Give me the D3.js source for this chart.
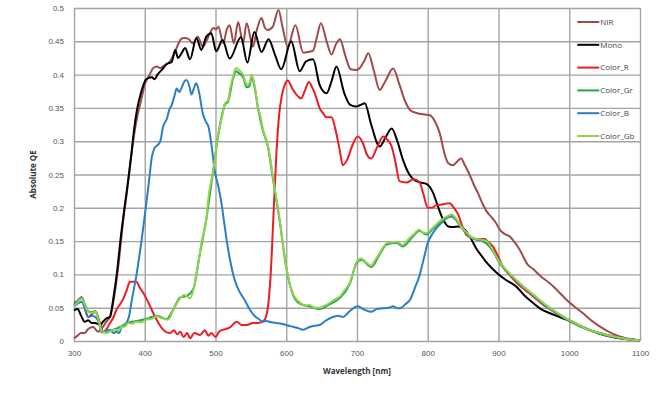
<!DOCTYPE html>
<html>
<head>
<meta charset="utf-8">
<script src="https://cdn.jsdelivr.net/npm/d3@7"></script>
<style>
  body { margin: 0; background: #fff; }
  svg { display: block; font-family: "Open Sans", "Liberation Sans", sans-serif; }
  .grid line, .grid path { stroke: #a4a4a4; stroke-width: 1.4; }
  .axis text { fill: #555; font-size: 8px; }
  .axis path, .axis line { display: none; }
  .title { fill: #333; font-size: 8px; font-weight: bold; }
  .legend text { fill: #444; font-size: 8px; }
  .series { fill: none; stroke-width: 2; stroke-linejoin: round; }
</style>
</head>
<body>
<div id="chart"></div>
<script>
// wavelength [nm], absolute QE
const nir = [[300,0.004],[305,0.008],[310,0.012],[315,0.012],[320,0.018],[327,0.021],[334,0.014],[340,0.02],[345,0.028],[350,0.035],[355,0.055],[360,0.09],[365,0.135],[370,0.185],[375,0.225],[380,0.27],[385,0.31],[390,0.34],[395,0.362],[400,0.385],[407,0.4],[412,0.41],[417,0.412],[422,0.41],[428,0.414],[435,0.419],[442,0.432],[447,0.445],[452,0.454],[456,0.455],[461,0.454],[468,0.447],[475,0.457],[482,0.442],[487,0.45],[492,0.462],[497,0.47],[501,0.468],[504,0.472],[511,0.447],[516,0.468],[520,0.474],[526,0.447],[532,0.479],[539,0.447],[544,0.477],[553,0.442],[558,0.465],[565,0.485],[570,0.47],[574,0.467],[581,0.472],[589,0.497],[595,0.47],[602,0.442],[613,0.474],[624,0.433],[631,0.434],[638,0.436],[643,0.455],[649,0.477],[657,0.45],[664,0.43],[670,0.445],[676,0.453],[683,0.43],[691,0.408],[699,0.407],[704,0.41],[710,0.42],[716,0.432],[724,0.405],[732,0.377],[740,0.39],[751,0.409],[760,0.385],[768,0.36],[775,0.347],[785,0.342],[795,0.34],[803,0.339],[810,0.33],[817,0.312],[824,0.28],[829,0.267],[836,0.264],[842,0.27],[847,0.274],[852,0.265],[859,0.25],[865,0.235],[871,0.222],[878,0.205],[883,0.195],[890,0.186],[896,0.178],[902,0.167],[910,0.16],[916,0.157],[923,0.148],[930,0.137],[941,0.115],[949,0.108],[960,0.097],[972,0.087],[985,0.074],[996,0.062],[1008,0.051],[1019,0.042],[1030,0.032],[1043,0.022],[1061,0.011],[1080,0.004],[1100,0.001]];

const mono = [[300,0.046],[305,0.048],[310,0.038],[315,0.029],[320,0.031],[325,0.027],[330,0.027],[337,0.024],[341,0.029],[346,0.034],[351,0.036],[355,0.06],[361,0.105],[366,0.155],[372,0.205],[377,0.245],[381,0.28],[385,0.318],[389,0.347],[395,0.374],[402,0.393],[410,0.396],[414,0.393],[418,0.4],[424,0.407],[431,0.416],[438,0.419],[443,0.437],[447,0.425],[452,0.432],[457,0.44],[464,0.423],[473,0.455],[480,0.437],[487,0.457],[494,0.462],[501,0.435],[510,0.452],[520,0.424],[536,0.456],[545,0.418],[555,0.464],[565,0.434],[575,0.453],[584,0.43],[593,0.408],[607,0.45],[619,0.405],[628,0.42],[638,0.423],[647,0.385],[657,0.372],[664,0.39],[671,0.412],[682,0.372],[690,0.355],[699,0.352],[706,0.355],[711,0.357],[720,0.325],[732,0.292],[740,0.305],[749,0.319],[757,0.3],[765,0.272],[774,0.25],[782,0.241],[790,0.238],[798,0.236],[807,0.224],[815,0.2],[822,0.182],[829,0.172],[836,0.171],[843,0.172],[849,0.17],[855,0.164],[862,0.152],[869,0.138],[876,0.128],[883,0.118],[890,0.11],[897,0.103],[910,0.092],[925,0.082],[937,0.068],[949,0.057],[960,0.048],[972,0.042],[984,0.037],[996,0.032],[1008,0.026],[1019,0.021],[1030,0.016],[1043,0.011],[1061,0.006],[1080,0.003],[1100,0.001]];

const colorR = [[300,0.058],[305,0.06],[311,0.066],[315,0.05],[320,0.036],[325,0.04],[330,0.044],[336,0.03],[341,0.013],[346,0.018],[351,0.027],[356,0.036],[360,0.047],[365,0.055],[370,0.064],[375,0.078],[379,0.089],[388,0.089],[393,0.08],[398,0.072],[405,0.058],[412,0.042],[420,0.026],[426,0.017],[431,0.013],[436,0.012],[441,0.016],[446,0.01],[450,0.014],[455,0.006],[460,0.012],[464,0.004],[470,0.012],[478,0.009],[485,0.016],[490,0.008],[494,0.012],[500,0.006],[505,0.014],[511,0.017],[520,0.02],[530,0.029],[537,0.024],[544,0.024],[553,0.027],[560,0.027],[567,0.029],[571,0.035],[574,0.05],[578,0.1],[582,0.19],[586,0.28],[590,0.34],[594,0.37],[598,0.385],[602,0.391],[609,0.378],[616,0.368],[621,0.364],[626,0.375],[632,0.389],[637,0.38],[642,0.367],[647,0.35],[652,0.342],[657,0.336],[664,0.336],[669,0.32],[675,0.29],[680,0.264],[686,0.272],[694,0.295],[701,0.307],[708,0.298],[714,0.28],[720,0.274],[728,0.29],[737,0.307],[743,0.302],[749,0.292],[755,0.265],[760,0.24],[770,0.238],[780,0.243],[788,0.239],[794,0.22],[800,0.2],[806,0.2],[812,0.204],[820,0.205],[831,0.207],[837,0.2],[843,0.19],[849,0.172],[855,0.159],[862,0.155],[869,0.153],[880,0.153],[886,0.148],[892,0.142],[899,0.128],[906,0.112],[915,0.1],[925,0.088],[937,0.077],[949,0.067],[960,0.057],[972,0.048],[984,0.04],[996,0.033],[1008,0.027],[1019,0.021],[1030,0.016],[1043,0.012],[1061,0.007],[1080,0.003],[1100,0.001]];

const colorGr = [[300,0.054],[305,0.06],[311,0.065],[315,0.056],[320,0.045],[325,0.043],[330,0.045],[335,0.031],[339,0.016],[346,0.013],[358,0.018],[367,0.022],[377,0.028],[388,0.03],[402,0.033],[417,0.038],[431,0.033],[440,0.047],[450,0.065],[460,0.068],[469,0.079],[477,0.126],[487,0.183],[497,0.258],[504,0.31],[513,0.354],[518,0.36],[525,0.395],[529,0.405],[532,0.403],[539,0.396],[544,0.381],[548,0.383],[551,0.396],[555,0.382],[560,0.35],[567,0.316],[574,0.292],[581,0.245],[591,0.178],[600,0.11],[610,0.068],[619,0.056],[633,0.052],[647,0.048],[661,0.055],[676,0.065],[690,0.086],[699,0.116],[706,0.122],[720,0.111],[732,0.13],[742,0.145],[756,0.147],[765,0.142],[779,0.157],[788,0.165],[798,0.16],[807,0.168],[822,0.182],[834,0.188],[847,0.171],[862,0.155],[876,0.151],[890,0.139],[902,0.117],[920,0.096],[949,0.069],[972,0.049],[996,0.033],[1019,0.02],[1043,0.011],[1070,0.005],[1100,0.001]];

const colorB = [[300,0.052],[305,0.056],[311,0.059],[315,0.05],[320,0.036],[326,0.038],[332,0.034],[336,0.025],[339,0.013],[345,0.015],[351,0.017],[356,0.012],[360,0.014],[364,0.012],[367,0.02],[370,0.022],[374,0.027],[378,0.038],[381,0.057],[385,0.08],[388,0.097],[392,0.125],[395,0.147],[399,0.18],[402,0.205],[406,0.24],[410,0.276],[414,0.29],[418,0.294],[422,0.3],[426,0.322],[431,0.333],[435,0.348],[438,0.354],[442,0.368],[445,0.379],[449,0.374],[452,0.38],[456,0.39],[459,0.392],[463,0.383],[466,0.37],[469,0.378],[473,0.387],[477,0.372],[482,0.342],[486,0.33],[490,0.322],[494,0.297],[499,0.255],[504,0.232],[508,0.21],[512,0.18],[516,0.15],[520,0.125],[525,0.1],[530,0.083],[535,0.072],[541,0.062],[548,0.048],[555,0.038],[561,0.033],[567,0.029],[572,0.03],[579,0.028],[586,0.027],[593,0.026],[600,0.024],[607,0.022],[615,0.02],[624,0.017],[633,0.021],[640,0.023],[647,0.024],[655,0.03],[666,0.036],[674,0.038],[680,0.036],[690,0.045],[701,0.052],[710,0.047],[720,0.044],[728,0.048],[737,0.049],[745,0.05],[751,0.052],[757,0.049],[763,0.05],[768,0.055],[775,0.062],[782,0.08],[788,0.097],[794,0.122],[800,0.147],[806,0.16],[812,0.169],[819,0.177],[826,0.184],[833,0.187],[840,0.182],[847,0.172],[855,0.162],[862,0.155],[869,0.152],[878,0.15],[885,0.145],[892,0.135],[900,0.12],[910,0.107],[920,0.096],[935,0.081],[949,0.069],[960,0.059],[972,0.05],[984,0.041],[996,0.034],[1008,0.027],[1019,0.021],[1030,0.016],[1043,0.012],[1061,0.007],[1080,0.003],[1100,0.001]];

const colorGb = [[300,0.052],[305,0.058],[311,0.064],[315,0.055],[320,0.044],[325,0.042],[330,0.044],[335,0.03],[339,0.015],[346,0.012],[352,0.015],[358,0.017],[363,0.016],[367,0.021],[372,0.022],[377,0.027],[382,0.026],[388,0.029],[395,0.028],[402,0.032],[409,0.033],[417,0.037],[422,0.035],[426,0.034],[431,0.032],[435,0.034],[440,0.046],[445,0.056],[450,0.064],[456,0.069],[460,0.067],[464,0.064],[469,0.078],[473,0.1],[477,0.125],[480,0.147],[484,0.165],[487,0.182],[490,0.215],[497,0.257],[504,0.312],[509,0.335],[513,0.356],[518,0.362],[521,0.38],[525,0.398],[529,0.41],[532,0.408],[536,0.404],[539,0.4],[544,0.385],[548,0.387],[551,0.4],[555,0.385],[560,0.352],[564,0.335],[567,0.318],[571,0.305],[574,0.294],[578,0.27],[581,0.247],[586,0.215],[591,0.18],[595,0.148],[600,0.112],[605,0.085],[610,0.07],[615,0.062],[619,0.058],[626,0.053],[633,0.054],[640,0.05],[647,0.05],[654,0.053],[661,0.057],[668,0.062],[676,0.067],[683,0.077],[690,0.088],[695,0.105],[699,0.118],[706,0.124],[713,0.118],[720,0.113],[726,0.122],[732,0.132],[738,0.142],[742,0.147],[749,0.148],[756,0.149],[765,0.144],[772,0.152],[779,0.159],[788,0.167],[793,0.163],[798,0.162],[807,0.17],[815,0.178],[822,0.184],[829,0.188],[834,0.19],[840,0.184],[847,0.172],[855,0.163],[862,0.156],[869,0.153],[876,0.152],[883,0.15],[890,0.14],[896,0.128],[902,0.118],[910,0.108],[920,0.097],[935,0.082],[949,0.07],[960,0.06],[972,0.05],[984,0.042],[996,0.034],[1008,0.027],[1019,0.021],[1030,0.016],[1043,0.012],[1061,0.007],[1080,0.003],[1100,0.001]];

const xTicks = [300, 400, 500, 600, 700, 800, 900, 1000, 1100];
const yTicks = [0, 0.05, 0.1, 0.15, 0.2, 0.25, 0.3, 0.35, 0.4, 0.45, 0.5];

const seriesNames = ["NIR", "Mono", "Color_R", "Color_Gr", "Color_B", "Color_Gb"];
const seriesData = [nir, mono, colorR, colorGr, colorB, colorGb];
const seriesColors = ["#a04a4c", "#000000", "#ec1c24", "#22a84a", "#2a7fc6", "#92d050"];
const drawOrder = [0, 1, 2, 4, 3, 5];

const width = 661, height = 399;
const margin = { top: 8, right: 21, bottom: 58, left: 74 };

const svg = d3.select("#chart").append("svg")
	.attr("width", width)
	.attr("height", height);

const g = svg.append("g")
	.attr("transform", `translate(${margin.left},${margin.top})`);

const w = width - margin.left - margin.right;
const h = height - margin.top - margin.bottom;

const xScale = d3.scaleLinear().domain([300, 1100]).range([0, w]);
const yScale = d3.scaleLinear().domain([0, 0.5]).range([h, 0]);

// grid
g.append("g")
	.attr("class", "grid")
	.call(d3.axisBottom(xScale).tickValues(xTicks).tickSize(h).tickFormat(""))
	.call(s => s.select(".domain").remove());
g.append("g")
	.attr("class", "grid")
	.call(d3.axisRight(yScale).tickValues(yTicks).tickSize(w).tickFormat(""))
	.call(s => s.select(".domain").remove());

// axes labels
g.append("g")
	.attr("class", "axis x")
	.attr("transform", `translate(0,${h})`)
	.call(d3.axisBottom(xScale).tickValues(xTicks).tickSize(0).tickPadding(9)
		.tickFormat(d3.format("d")));
g.append("g")
	.attr("class", "axis y")
	.call(d3.axisLeft(yScale).tickValues(yTicks).tickSize(0).tickPadding(10)
		.tickFormat(d => d === 0 ? "0" : String(+d.toFixed(2))));

g.append("text")
	.attr("class", "title")
	.attr("x", w / 2)
	.attr("y", h + 33)
	.attr("text-anchor", "middle")
	.text("Wavelength [nm]");
g.append("text")
	.attr("class", "title")
	.attr("transform", `translate(${-38},${yScale(0.25)}) rotate(-90)`)
	.attr("text-anchor", "middle")
	.text("Absolute QE");

// lines
const line = d3.line()
	.x(d => xScale(d[0]))
	.y(d => yScale(d[1]))
	.curve(d3.curveMonotoneX);

drawOrder.forEach(i => {
	g.append("path")
		.attr("class", "series")
		.attr("stroke", seriesColors[i])
		.datum(seriesData[i])
		.attr("d", line);
});

// legend
const legend = g.append("g")
	.attr("class", "legend")
	.attr("transform", `translate(${xScale(1000) + 8},${14})`);
seriesNames.forEach((name, i) => {
	const item = legend.append("g").attr("transform", `translate(0,${i * 22.8})`);
	item.append("line")
		.attr("x1", 0).attr("x2", 22)
		.attr("stroke", seriesColors[i])
		.attr("stroke-width", 2);
	item.append("text")
		.attr("x", 23)
		.attr("dy", "0.35em")
		.text(name);
});
</script>
</body>
</html>
